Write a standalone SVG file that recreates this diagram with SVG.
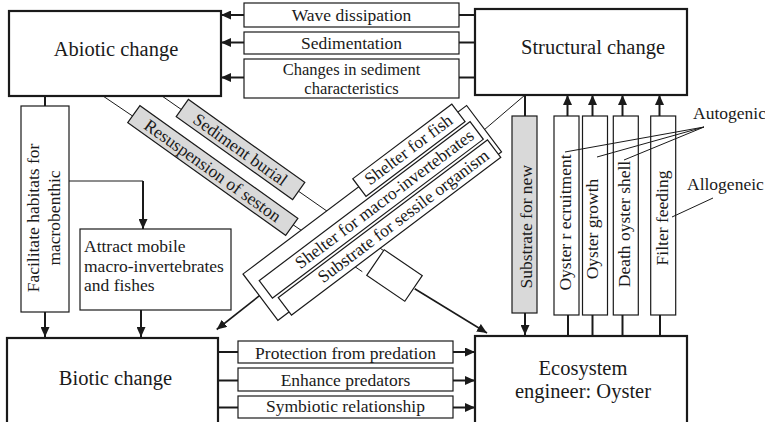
<svg xmlns="http://www.w3.org/2000/svg" width="765" height="422" viewBox="0 0 765 422">
<defs>
<marker id="ah" markerUnits="userSpaceOnUse" markerWidth="10" markerHeight="9" refX="10" refY="4.5" orient="auto"><path d="M0,0 L10,4.5 L0,9 z" fill="#1a1a1a"/></marker>
</defs>
<style>
.main{fill:#fff;stroke:#1a1a1a;stroke-width:2.2}
.box{fill:#fff;stroke:#1a1a1a;stroke-width:1.2}
.gray{fill:#d9d9d9;stroke:#1a1a1a;stroke-width:1.2}
.t{font-family:"Liberation Serif","Times New Roman",serif;font-size:17.5px;fill:#1a1a1a}
.s{font-size:16.5px}
.title{font-family:"Liberation Serif","Times New Roman",serif;font-size:20.5px;fill:#1a1a1a}
.c{text-anchor:middle}
.thick{stroke:#1a1a1a;stroke-width:2;fill:none}
.thin{stroke:#1a1a1a;stroke-width:1;fill:none}
.mid{stroke:#1a1a1a;stroke-width:1.6;fill:none}
</style>
<rect width="765" height="422" fill="#fff"/>
<g id="connectors">
<line x1="244" y1="15" x2="221" y2="15" class="thick" marker-end="url(#ah)"/>
<line x1="244" y1="42.5" x2="221" y2="42.5" class="thick" marker-end="url(#ah)"/>
<line x1="244" y1="77.5" x2="221" y2="77.5" class="thick" marker-end="url(#ah)"/>
<line x1="459" y1="15" x2="475" y2="15" class="thick"/>
<line x1="459" y1="42.5" x2="475" y2="42.5" class="thick"/>
<line x1="459" y1="77.5" x2="475" y2="77.5" class="thick"/>
<line x1="45" y1="96" x2="45" y2="106" class="thick"/>
<line x1="45" y1="312" x2="45" y2="337" class="thick" marker-end="url(#ah)"/>
<polyline points="69,181 143,181" class="thin"/>
<line x1="143" y1="181" x2="143" y2="229" class="thick" marker-end="url(#ah)"/>
<line x1="141" y1="310" x2="141" y2="337" class="thick" marker-end="url(#ah)"/>
<line x1="218" y1="352" x2="238" y2="352" class="thick"/>
<line x1="218" y1="380.5" x2="238" y2="380.5" class="thick"/>
<line x1="218" y1="407.5" x2="238" y2="407.5" class="thick"/>
<line x1="453" y1="352" x2="475" y2="352" class="thick" marker-end="url(#ah)"/>
<line x1="453" y1="380.5" x2="475" y2="380.5" class="thick" marker-end="url(#ah)"/>
<line x1="453" y1="407.5" x2="475" y2="407.5" class="thick" marker-end="url(#ah)"/>
<line x1="525" y1="95" x2="525" y2="116" class="thick"/>
<line x1="525" y1="313" x2="525" y2="335" class="thick" marker-end="url(#ah)"/>
<line x1="567.5" y1="116" x2="567.5" y2="95" class="thick" marker-end="url(#ah)"/>
<line x1="592.5" y1="116" x2="592.5" y2="95" class="thick" marker-end="url(#ah)"/>
<line x1="622.5" y1="116" x2="622.5" y2="95" class="thick" marker-end="url(#ah)"/>
<line x1="659.5" y1="116" x2="659.5" y2="95" class="thick" marker-end="url(#ah)"/>
<line x1="568" y1="315" x2="568" y2="336" class="thick"/>
<line x1="592.5" y1="315" x2="592.5" y2="336" class="thick"/>
<line x1="622.5" y1="315" x2="622.5" y2="336" class="thick"/>
<line x1="660" y1="315" x2="660" y2="336" class="thick"/>
<line x1="103" y1="96" x2="362.3" y2="271.7" class="thin"/>
<line x1="162" y1="96" x2="386" y2="252.3" class="thin"/>
<line x1="525" y1="95" x2="484" y2="130" class="thin"/>
<line x1="414.7" y1="288.8" x2="487" y2="333" class="mid" marker-end="url(#ah)"/>
<line x1="266.4" y1="290.2" x2="216.7" y2="329.5" class="mid" marker-end="url(#ah)"/>
</g>
<g id="abiotic"><rect x="9" y="11" width="212" height="85" class="main"/><text x="116" y="56" class="title c">Abiotic change</text></g>
<g id="structural"><rect x="475" y="9" width="212" height="86" class="main"/><text x="593" y="54" class="title c">Structural change</text></g>
<g id="biotic"><rect x="7" y="338" width="211" height="90" class="main"/><text x="115.5" y="385" class="title c">Biotic change</text></g>
<g id="oyster"><rect x="475" y="336" width="212" height="90" class="main"/><text x="583" y="375" class="title c">Ecosystem</text><text x="583" y="398" class="title c">engineer: Oyster</text></g>
<g id="wave"><rect x="244" y="3" width="215" height="24" class="box"/><text x="351.5" y="21" class="t c">Wave dissipation</text></g>
<g id="sedimentation"><rect x="244" y="32" width="215" height="22" class="box"/><text x="351.5" y="48.5" class="t c">Sedimentation</text></g>
<g id="sedchar"><rect x="244" y="59" width="215" height="39" class="box"/><text x="351.5" y="75" class="t s c">Changes in sediment</text><text x="351.5" y="94" class="t s c">characteristics</text></g>
<g id="protection"><rect x="238" y="341" width="215" height="22" class="box"/><text x="345.5" y="358.5" class="t c">Protection from predation</text></g>
<g id="predators"><rect x="238" y="368" width="215" height="23" class="box"/><text x="345.5" y="386" class="t c">Enhance predators</text></g>
<g id="symbiotic"><rect x="238" y="396" width="215" height="22" class="box"/><text x="345.5" y="412" class="t c">Symbiotic relationship</text></g>
<g id="facilitate"><rect x="21" y="106" width="48" height="206" class="box"/><text transform="translate(38.5,218) rotate(-90)" class="t c">Facilitate habitats for</text><text transform="translate(60,218) rotate(-90)" class="t c">macrobenthic</text></g>
<g id="attract"><rect x="80" y="229" width="151" height="81" class="box"/><text x="84" y="252" class="t">Attract mobile</text><text x="84" y="272" class="t">macro-invertebrates</text><text x="84" y="291" class="t">and fishes</text></g>
<g id="substratenew"><rect x="512" y="116" width="25" height="197" class="gray"/><text transform="translate(532,226.7) rotate(-90)" class="t c">Substrate for new</text></g>
<g id="recruitment"><rect x="554" y="116" width="25" height="199" class="box"/><text transform="translate(571,222.5) rotate(-90)" class="t c">Oyster r ecruitment</text></g>
<g id="growth"><rect x="582.5" y="116" width="25" height="199" class="box"/><text transform="translate(598,229) rotate(-90)" class="t c">Oyster growth</text></g>
<g id="death"><rect x="613.3" y="116" width="25" height="199" class="box"/><text transform="translate(629.5,224) rotate(-90)" class="t c">Death oyster shell</text></g>
<g id="filter"><rect x="650.7" y="116" width="25" height="199" class="box"/><text transform="translate(667.5,218) rotate(-90)" class="t c">Filter feeding</text></g>
<g id="burial" transform="translate(240.5,149.5) rotate(35.5)"><rect x="-71.5" y="-10.5" width="143" height="21" class="gray"/><text x="0" y="6" class="t c">Sediment burial</text></g>
<g id="resuspension" transform="translate(212.8,170.5) rotate(35.5)"><rect x="-97" y="-10.5" width="194" height="21" class="gray"/><text x="0" y="6" class="t c">Resuspension of seston</text></g>
<g id="merge" transform="translate(394.5,275.5) rotate(34.2)"><rect x="-23" y="-15.5" width="46" height="31" class="box"/></g>
<g id="shelter" transform="translate(243,274) rotate(-37)">
<rect x="0" y="0" width="280" height="58" class="box"/>
<rect x="145" y="-10" width="124" height="22" class="box"/>
<text x="207" y="6" class="t c">Shelter for fish</text>
<rect x="9" y="15" width="264" height="22" class="box"/>
<text x="158" y="31" class="t c">Shelter for macro-invertebrates</text>
<rect x="14" y="40" width="262" height="22" class="box"/>
<text x="163" y="56" class="t c">Substrate for sessile organism</text>
</g>
<g id="legend">
<text x="693" y="119" class="t">Autogenic</text>
<text x="687" y="190" class="t">Allogeneic</text>
<line x1="704" y1="127" x2="565" y2="152" class="thin"/>
<line x1="704" y1="127" x2="597" y2="157" class="thin"/>
<line x1="704" y1="127" x2="624" y2="160" class="thin"/>
<line x1="713" y1="198" x2="672" y2="217" class="thin"/>
</g>
</svg>
